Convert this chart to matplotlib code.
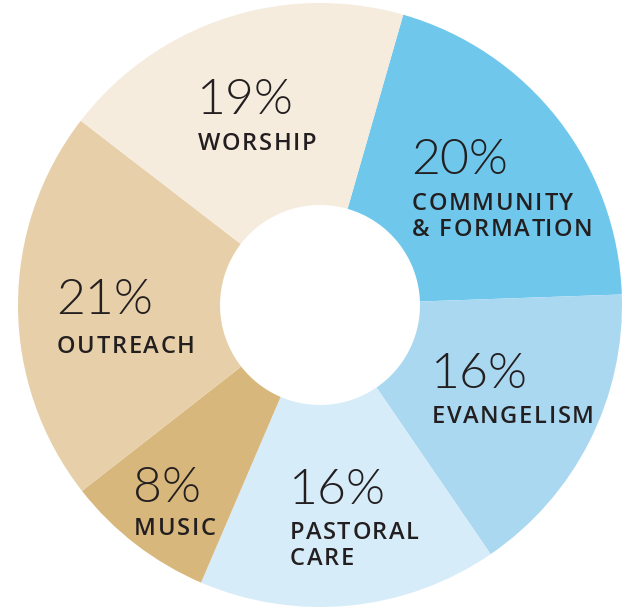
import matplotlib
matplotlib.use("Agg")
import matplotlib.pyplot as plt

categories = ["COMMUNITY\n& FORMATION", "EVANGELISM", "PASTORAL\nCARE", "MUSIC", "OUTREACH", "WORSHIP"]
values = [20, 16, 16, 8, 21, 19]
colors = ["#6FC8EC", "#ABD8F1", "#D6ECF8", "#D8B77D", "#E7D0A9", "#F6ECDE"]

# label layout (pixel coords, top-left origin): left x, percent y, category first-line y
label_pos = [(413, 157, 202), (433, 372, 415), (291, 488, 531), (135, 485, 527), (58, 297, 345), (199, 97, 142)]

W, H = 634, 610
fig = plt.figure(figsize=(W / 100, H / 100), dpi=100)
ax = fig.add_axes([0, 0, 1, 1])

cx, cy, R = 320, 305, 302
ax.pie(values, colors=colors, startangle=74, counterclock=False,
       center=(cx, H - cy), radius=R,
       wedgeprops=dict(width=R - 100, linewidth=0), frame=True)
ax.set_xlim(0, W)
ax.set_ylim(0, H)
ax.set_aspect("equal")
ax.axis("off")

txt = "#231F20"
renderer = fig.canvas.get_renderer()
cat_font = dict(fontsize=17, family=["Open Sans", "DejaVu Sans"], fontweight="semibold")
track = 1.7


def text_w(s):
    t = ax.text(0, 0, s, **cat_font)
    w = t.get_window_extent(renderer).width
    t.remove()
    return w


wI = text_w("I")


def tracked(x0, y, s):
    for k, ch in enumerate(s):
        if ch == " ":
            continue
        off = (text_w(s[:k] + "I") - wI) if k > 0 else 0
        ax.text(x0 + off + k * track, y, ch, ha="left", va="center", color=txt, **cat_font)


for cat, v, (lx, py, cyy) in zip(categories, values, label_pos):
    ax.text(lx - 2, H - (py + 3), f"{v}%", ha="left", va="center", fontsize=36,
            family=["Lato", "DejaVu Sans"], fontweight=300, color=txt)
    for i, line in enumerate(cat.split("\n")):
        tracked(lx - 1, H - (cyy + 2 + 26 * i), line)

fig.savefig("out.png", dpi=100)
